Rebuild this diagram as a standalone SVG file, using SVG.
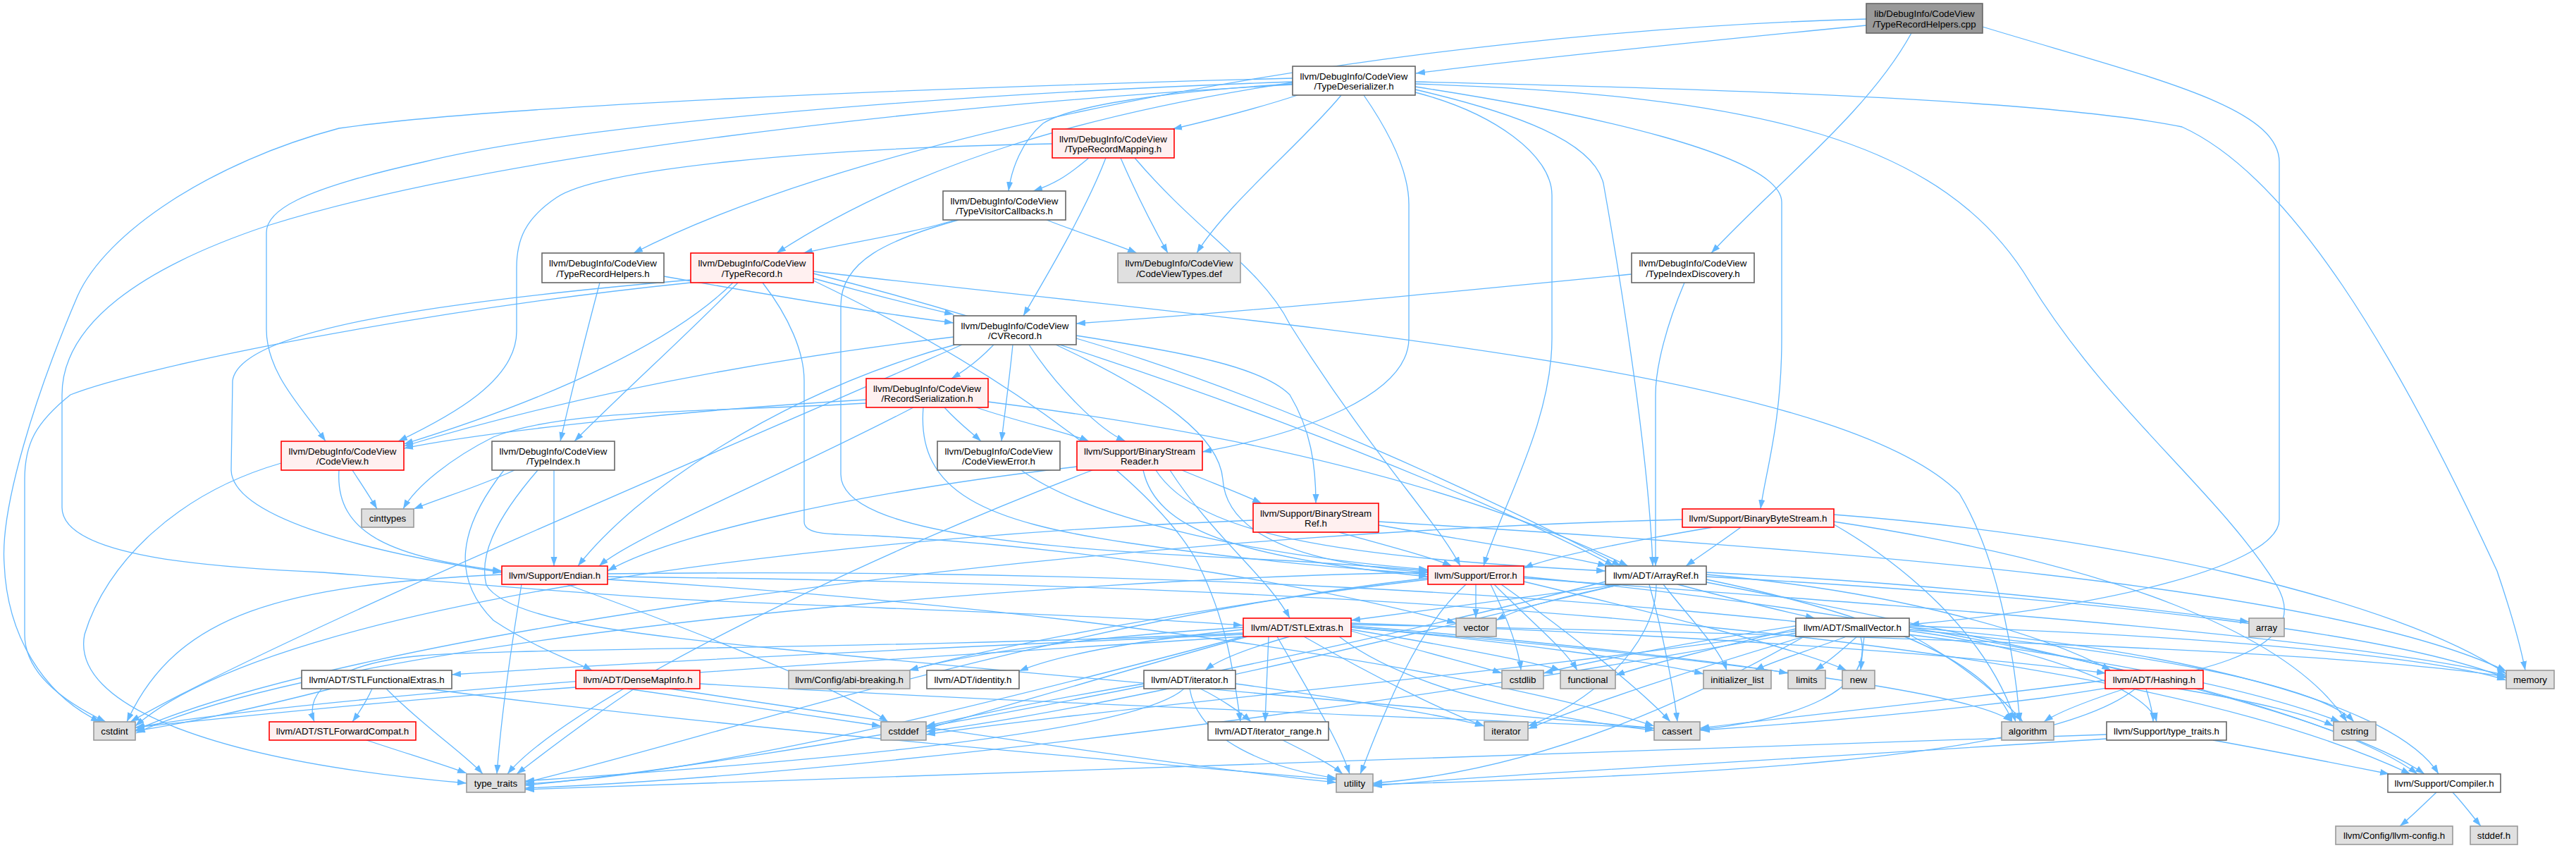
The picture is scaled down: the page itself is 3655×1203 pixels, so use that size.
<svg xmlns="http://www.w3.org/2000/svg" width="3655" height="1203" viewBox="0 0 3655 1203">
<defs>
<marker id="ah" viewBox="0 0 10 7" refX="10" refY="3.5" markerWidth="13" markerHeight="9.1" markerUnits="userSpaceOnUse" orient="auto">
<path d="M0,0 L10,3.5 L0,7 z" fill="#63b8ff"/>
</marker>
<style>
.e{fill:none;stroke:#63b8ff;stroke-width:1.3;marker-end:url(#ah)}
.nw rect{fill:#ffffff;stroke:#666666;stroke-width:1.6}
.nr rect{fill:#fff0f0;stroke:#ff0000;stroke-width:1.6}
.ng rect{fill:#e0e0e0;stroke:#999999;stroke-width:1.6}
.nroot rect{fill:#999999;stroke:#666666;stroke-width:1.6}
text{font-family:"Liberation Sans",Arial,Helvetica,sans-serif;font-size:13.3px;fill:#000000;text-anchor:middle}
</style>
</defs>
<rect x="0" y="0" width="3655" height="1203" fill="#ffffff"/>
<g id="edges">
<path class="e" d="M2648,36 C2400,60 2150,86 2009,104"/>
<path class="e" d="M2648,27 C2000,45 1250,180 899,359"/>
<path class="e" d="M2712,47 C2650,160 2520,260 2428,359"/>
<path class="e" d="M2813,38 C3050,110 3234,150 3234,230 L3234,737 C3234,800 3000,860 2710,886"/>
<path class="e" d="M1834,111 C1300,125 700,150 481,182 C300,230 150,330 110,420 C50,560 0,720 6,800 C10,900 60,985 142,1024"/>
<path class="e" d="M1834,116 C1300,135 800,180 600,230 C420,270 378,300 378,330 L378,467 C378,530 430,580 462,626"/>
<path class="e" d="M1834,120 C1300,150 700,220 380,320 C200,380 88,460 88,560 L88,720 C88,790 300,805 458,812 C700,830 850,845 1000,852 C1300,865 1600,875 1763,887"/>
<path class="e" d="M1841,135 C1780,155 1720,170 1664,183"/>
<path class="e" d="M1903,135 C1850,200 1740,290 1698,359"/>
<path class="e" d="M1935,135 C1980,200 1999,250 1999,290 L1999,480 C1999,560 1850,615 1706,641"/>
<path class="e" d="M2008,131 C2120,160 2202,220 2202,277 L2202,480 C2202,600 2130,720 2105,803"/>
<path class="e" d="M2008,127 C2150,160 2260,200 2275,260 C2300,400 2340,650 2345,803"/>
<path class="e" d="M2008,123 C2250,160 2528,220 2528,287 L2528,480 C2528,600 2505,670 2498,722"/>
<path class="e" d="M2008,119 C2500,135 2760,200 2880,400 C2990,580 3150,700 3230,830 C3290,930 3100,960 2900,990 C2700,1015 2500,1030 2413,1036"/>
<path class="e" d="M2008,116 C2400,125 2900,140 3096,180 C3250,250 3400,500 3543,810 C3560,860 3575,910 3583,951"/>
<path class="e" d="M1834,117 C1550,160 1300,230 1102,359"/>
<path class="e" d="M1834,119 C1650,130 1520,150 1480,175 C1450,200 1435,240 1431,271"/>
<path class="e" d="M942,392 C1100,420 1250,445 1353,458"/>
<path class="e" d="M851,401 C830,480 810,560 795,626"/>
<path class="e" d="M2315,389 C2100,410 1800,440 1527,459"/>
<path class="e" d="M2390,401 C2365,460 2349,520 2349,560 L2349,803"/>
<path class="e" d="M1545,224 C1520,245 1500,260 1466,271"/>
<path class="e" d="M1590,224 C1610,270 1635,320 1657,359"/>
<path class="e" d="M1569,224 C1540,300 1480,400 1452,448"/>
<path class="e" d="M1493,204 C1150,210 850,240 790,280 C745,310 733,340 733,380 L733,470 C733,540 640,590 565,626"/>
<path class="e" d="M1610,224 C1700,330 1790,380 1830,460 C1950,650 2040,740 2072,803"/>
<path class="e" d="M1355,312 C1300,330 1200,345 1140,359"/>
<path class="e" d="M1485,312 C1530,330 1580,345 1613,359"/>
<path class="e" d="M1360,312 C1260,340 1193,370 1193,433 L1193,673 C1193,760 1500,780 1820,795 C1900,800 1980,806 2026,810"/>
<path class="e" d="M1154,395 C1230,415 1290,432 1353,446"/>
<path class="e" d="M1040,401 C960,480 800,560 573,630"/>
<path class="e" d="M1047,401 C980,470 880,560 815,626"/>
<path class="e" d="M980,397 C600,430 340,470 330,540 L328,667 C330,730 500,780 712,812"/>
<path class="e" d="M980,401 C600,440 200,520 100,560 C50,600 35,630 35,680 L35,900 C35,960 100,1000 150,1024"/>
<path class="e" d="M1154,388 C1600,500 2100,700 2290,803"/>
<path class="e" d="M1082,401 C1120,450 1141,500 1141,540 L1141,740 C1141,760 1180,757 1240,760 C1600,780 1900,840 2066,884"/>
<path class="e" d="M1154,385 C1800,460 2600,520 2780,700 C2840,800 2860,950 2866,1024"/>
<path class="e" d="M1154,398 C1450,540 1650,700 1700,800 C1740,880 1750,950 1760,1024"/>
<path class="e" d="M1410,489 C1390,510 1370,525 1350,537"/>
<path class="e" d="M1437,489 C1432,540 1425,590 1421,626"/>
<path class="e" d="M1460,489 C1500,550 1560,610 1597,626"/>
<path class="e" d="M1498,489 C1650,560 1730,620 1735,680 C1740,760 1850,800 2026,812"/>
<path class="e" d="M1527,476 C1680,500 1790,520 1830,560 C1860,610 1867,660 1867,714"/>
<path class="e" d="M1527,480 C1800,560 2100,700 2300,803"/>
<path class="e" d="M1353,478 C1000,520 750,580 573,633"/>
<path class="e" d="M1355,489 C1100,560 900,700 820,803"/>
<path class="e" d="M1365,489 C1000,650 400,900 185,1024"/>
<path class="e" d="M1340,578 C1360,600 1380,615 1392,626"/>
<path class="e" d="M1385,578 C1450,600 1520,615 1545,626"/>
<path class="e" d="M1402,570 C1800,620 2100,700 2310,803"/>
<path class="e" d="M1229,567 C1000,580 700,610 573,636"/>
<path class="e" d="M1229,572 C1000,585 800,580 700,620 C640,650 590,690 572,722"/>
<path class="e" d="M1296,578 C1100,680 900,760 850,803"/>
<path class="e" d="M1310,578 C1300,700 1400,740 1600,770 C1800,800 1950,808 2026,815"/>
<path class="e" d="M1677,667 C1720,685 1760,700 1790,714"/>
<path class="e" d="M1528,662 C1200,700 950,760 862,810"/>
<path class="e" d="M1550,667 C1200,800 800,1000 720,1098"/>
<path class="e" d="M1622,667 C1640,750 1750,790 2026,818"/>
<path class="e" d="M1640,667 C1700,760 1900,790 2278,810"/>
<path class="e" d="M1660,667 C1720,760 1800,820 1830,877"/>
<path class="e" d="M1956,745 C2100,770 2230,790 2280,803"/>
<path class="e" d="M1900,755 C1970,775 2030,790 2060,803"/>
<path class="e" d="M1778,738 C1200,760 400,850 192,1030"/>
<path class="e" d="M1956,740 C2600,780 3300,830 3556,952"/>
<path class="e" d="M2470,748 C2440,770 2410,790 2392,803"/>
<path class="e" d="M2430,748 C2300,770 2200,790 2162,806"/>
<path class="e" d="M2387,737 C1500,760 500,900 192,1036"/>
<path class="e" d="M2602,730 C3000,760 3400,850 3556,956"/>
<path class="e" d="M2602,740 C3000,800 3250,900 3330,1024"/>
<path class="e" d="M2602,744 C2700,800 2820,900 2860,1024"/>
<path class="e" d="M500,667 C515,690 525,705 535,722"/>
<path class="e" d="M481,667 C475,760 560,790 712,810"/>
<path class="e" d="M399,657 C250,700 150,800 120,900 C100,1000 300,1080 662,1111"/>
<path class="e" d="M730,667 C680,690 630,705 587,722"/>
<path class="e" d="M786,667 L786,803"/>
<path class="e" d="M715,667 C650,750 640,820 700,880 C760,920 820,940 840,951"/>
<path class="e" d="M763,667 C700,740 680,790 690,830 C720,880 900,900 1100,920 C1600,970 2100,1010 2347,1033"/>
<path class="e" d="M712,815 C400,830 250,870 180,1024"/>
<path class="e" d="M740,829 C720,950 710,1030 705,1098"/>
<path class="e" d="M804,829 C1000,900 1200,980 1260,1024"/>
<path class="e" d="M862,818 C2000,830 3000,900 3420,1098"/>
<path class="e" d="M862,822 C1500,860 2100,950 2347,1030"/>
<path class="e" d="M862,814 C2000,800 3000,900 3320,1024"/>
<path class="e" d="M2094,829 L2094,877"/>
<path class="e" d="M2115,829 C2140,880 2155,920 2158,951"/>
<path class="e" d="M2120,829 C2170,880 2220,920 2238,951"/>
<path class="e" d="M2130,829 C2230,900 2330,980 2370,1024"/>
<path class="e" d="M2162,825 C2350,870 2550,920 2620,951"/>
<path class="e" d="M2162,820 C2700,860 3300,900 3556,958"/>
<path class="e" d="M2162,818 C2800,880 3300,1000 3430,1098"/>
<path class="e" d="M2026,812 C1500,820 500,900 193,1040"/>
<path class="e" d="M2026,820 C1500,880 1000,1050 745,1110"/>
<path class="e" d="M2080,829 C2000,900 1950,1050 1930,1098"/>
<path class="e" d="M2026,822 C1700,860 1400,920 1290,951"/>
<path class="e" d="M2300,829 C2150,850 2000,870 1917,880"/>
<path class="e" d="M2300,829 C2200,850 2150,865 2123,880"/>
<path class="e" d="M2380,829 C2460,850 2520,865 2575,877"/>
<path class="e" d="M2421,815 C2700,840 2900,900 2995,951"/>
<path class="e" d="M2360,829 C2400,880 2440,920 2450,951"/>
<path class="e" d="M2350,829 C2350,920 2250,1000 2168,1030"/>
<path class="e" d="M2340,829 C2360,900 2375,980 2380,1024"/>
<path class="e" d="M2300,829 C2000,900 1600,1000 1314,1038"/>
<path class="e" d="M2421,822 C2700,880 2830,950 2855,1024"/>
<path class="e" d="M2421,812 C2800,830 3100,870 3191,882"/>
<path class="e" d="M2421,818 C3000,850 3400,900 3556,962"/>
<path class="e" d="M2278,825 C1800,950 1100,1080 745,1114"/>
<path class="e" d="M2421,826 C2800,900 3300,1000 3440,1098"/>
<path class="e" d="M2709,890 C3100,920 3400,1000 3460,1098"/>
<path class="e" d="M2709,895 C2900,920 3050,980 3060,1024"/>
<path class="e" d="M2709,900 C2800,950 2850,1000 2870,1024"/>
<path class="e" d="M2640,903 C2660,980 2550,1020 2412,1035"/>
<path class="e" d="M2548,895 C2200,950 1600,1000 1314,1042"/>
<path class="e" d="M2548,888 C2400,910 2250,940 2190,955"/>
<path class="e" d="M2709,893 C3100,930 3300,980 3340,1024"/>
<path class="e" d="M2548,892 C2450,915 2330,945 2292,958"/>
<path class="e" d="M2620,903 C2560,925 2510,940 2490,951"/>
<path class="e" d="M2560,903 C2400,950 2250,1000 2168,1034"/>
<path class="e" d="M2635,903 C2615,920 2600,935 2575,951"/>
<path class="e" d="M2645,903 L2640,951"/>
<path class="e" d="M2709,888 C3100,900 3450,930 3556,965"/>
<path class="e" d="M2548,898 C2000,1000 1200,1100 745,1118"/>
<path class="e" d="M2560,903 C2300,1050 2100,1100 1948,1111"/>
<path class="e" d="M1917,884 C2400,900 2800,930 2988,955"/>
<path class="e" d="M1764,898 C1300,920 700,920 600,930 C480,940 430,980 446,1024"/>
<path class="e" d="M1764,900 C1300,920 900,940 641,957"/>
<path class="e" d="M1830,903 C1770,920 1730,935 1710,951"/>
<path class="e" d="M1800,903 L1795,1024"/>
<path class="e" d="M1764,890 C1600,900 1400,920 1290,951"/>
<path class="e" d="M1764,893 C1600,910 1500,930 1446,952"/>
<path class="e" d="M1917,890 C2400,930 2800,980 2855,1024"/>
<path class="e" d="M1900,903 C2000,980 2200,1020 2347,1036"/>
<path class="e" d="M1770,903 C1600,950 1400,1010 1314,1034"/>
<path class="e" d="M1764,903 C1200,940 500,980 192,1032"/>
<path class="e" d="M1917,895 C2000,920 2100,945 2131,955"/>
<path class="e" d="M1917,893 C2050,915 2180,940 2214,951"/>
<path class="e" d="M1917,890 C2150,910 2350,940 2417,956"/>
<path class="e" d="M1850,903 C1950,960 2050,1010 2106,1030"/>
<path class="e" d="M1917,888 C2200,910 2450,940 2537,955"/>
<path class="e" d="M1917,886 C2600,900 3300,920 3556,960"/>
<path class="e" d="M1764,903 C1400,1000 1000,1100 745,1112"/>
<path class="e" d="M1812,903 C1850,970 1900,1050 1915,1098"/>
<path class="e" d="M528,977 C520,995 510,1010 500,1024"/>
<path class="e" d="M470,977 C380,1000 270,1025 192,1037"/>
<path class="e" d="M548,977 C600,1030 660,1070 685,1098"/>
<path class="e" d="M606,977 C1000,1030 1600,1080 1896,1106"/>
<path class="e" d="M993,970 C1500,1000 2100,1020 2347,1033"/>
<path class="e" d="M890,977 C1050,1000 1180,1020 1250,1030"/>
<path class="e" d="M817,975 C600,990 350,1015 192,1032"/>
<path class="e" d="M900,977 C820,1030 770,1070 733,1098"/>
<path class="e" d="M950,977 C1300,1030 1700,1090 1896,1110"/>
<path class="e" d="M1703,977 C1730,990 1760,1010 1775,1024"/>
<path class="e" d="M1623,970 C1500,990 1380,1015 1314,1030"/>
<path class="e" d="M1753,970 C1900,990 2050,1015 2106,1030"/>
<path class="e" d="M1680,977 C1600,1050 1000,1090 745,1108"/>
<path class="e" d="M1688,977 C1700,1050 1800,1090 1896,1104"/>
<path class="e" d="M1820,1050 C1860,1070 1890,1085 1905,1098"/>
<path class="e" d="M3015,977 C2960,995 2920,1010 2900,1024"/>
<path class="e" d="M3045,977 C3050,995 3055,1010 3055,1024"/>
<path class="e" d="M3090,977 C3200,995 3280,1015 3311,1030"/>
<path class="e" d="M3030,977 C2900,1080 2400,1100 1948,1113"/>
<path class="e" d="M2987,965 C2800,990 2600,1010 2412,1033"/>
<path class="e" d="M3140,1050 C3250,1070 3350,1090 3390,1098"/>
<path class="e" d="M2989,1042 C2000,1080 1200,1110 745,1120"/>
<path class="e" d="M2989,1048 C2500,1080 2100,1100 1948,1115"/>
<path class="e" d="M3457,1124 C3440,1140 3420,1160 3405,1172"/>
<path class="e" d="M3480,1124 C3495,1140 3510,1160 3520,1172"/>
<path class="e" d="M520,1050 C580,1070 630,1085 662,1097"/>
<path class="e" d="M1449,667 C1550,740 1800,790 2026,808"/>
</g>
<g id="nodes">
<g id="n_root" class="nroot"><rect x="2648" y="5" width="165" height="42"/><text x="2730.5" y="24">lib/DebugInfo/CodeView</text><text x="2730.5" y="38.5">/TypeRecordHelpers.cpp</text></g>
<g id="n_trh" class="nw"><rect x="769" y="359" width="173" height="42"/><text x="855.5" y="378">llvm/DebugInfo/CodeView</text><text x="855.5" y="392.5">/TypeRecordHelpers.h</text></g>
<g id="n_td" class="nw"><rect x="1834" y="94" width="174" height="41"/><text x="1921" y="112.5">llvm/DebugInfo/CodeView</text><text x="1921" y="127">/TypeDeserializer.h</text></g>
<g id="n_tid" class="nw"><rect x="2315" y="359" width="174" height="42"/><text x="2402" y="378">llvm/DebugInfo/CodeView</text><text x="2402" y="392.5">/TypeIndexDiscovery.h</text></g>
<g id="n_trm" class="nr"><rect x="1493" y="183" width="173" height="41"/><text x="1579.5" y="201.5">llvm/DebugInfo/CodeView</text><text x="1579.5" y="216">/TypeRecordMapping.h</text></g>
<g id="n_tvc" class="nw"><rect x="1338" y="271" width="174" height="41"/><text x="1425" y="289.5">llvm/DebugInfo/CodeView</text><text x="1425" y="304">/TypeVisitorCallbacks.h</text></g>
<g id="n_tr" class="nr"><rect x="980" y="359" width="174" height="42"/><text x="1067" y="378">llvm/DebugInfo/CodeView</text><text x="1067" y="392.5">/TypeRecord.h</text></g>
<g id="n_cvt" class="ng"><rect x="1586" y="359" width="174" height="42"/><text x="1673" y="378">llvm/DebugInfo/CodeView</text><text x="1673" y="392.5">/CodeViewTypes.def</text></g>
<g id="n_cvr" class="nw"><rect x="1353" y="448" width="174" height="41"/><text x="1440" y="466.5">llvm/DebugInfo/CodeView</text><text x="1440" y="481">/CVRecord.h</text></g>
<g id="n_rs" class="nr"><rect x="1229" y="537" width="173" height="41"/><text x="1315.5" y="555.5">llvm/DebugInfo/CodeView</text><text x="1315.5" y="570">/RecordSerialization.h</text></g>
<g id="n_cv" class="nr"><rect x="399" y="626" width="174" height="41"/><text x="486" y="644.5">llvm/DebugInfo/CodeView</text><text x="486" y="659">/CodeView.h</text></g>
<g id="n_ti" class="nw"><rect x="698" y="626" width="174" height="41"/><text x="785" y="644.5">llvm/DebugInfo/CodeView</text><text x="785" y="659">/TypeIndex.h</text></g>
<g id="n_cve" class="nw"><rect x="1330" y="626" width="174" height="41"/><text x="1417" y="644.5">llvm/DebugInfo/CodeView</text><text x="1417" y="659">/CodeViewError.h</text></g>
<g id="n_bsr" class="nr"><rect x="1528" y="626" width="178" height="41"/><text x="1617" y="644.5">llvm/Support/BinaryStream</text><text x="1617" y="659">Reader.h</text></g>
<g id="n_bsref" class="nr"><rect x="1778" y="714" width="178" height="41"/><text x="1867" y="732.5">llvm/Support/BinaryStream</text><text x="1867" y="747">Ref.h</text></g>
<g id="n_bbs" class="nr"><rect x="2387" y="722" width="215" height="26"/><text x="2494.5" y="739.5">llvm/Support/BinaryByteStream.h</text></g>
<g id="n_cinttypes" class="ng"><rect x="513" y="722" width="74" height="26"/><text x="550" y="739.5">cinttypes</text></g>
<g id="n_endian" class="nr"><rect x="712" y="803" width="150" height="26"/><text x="787" y="820.5">llvm/Support/Endian.h</text></g>
<g id="n_error" class="nr"><rect x="2026" y="803" width="136" height="26"/><text x="2094" y="820.5">llvm/Support/Error.h</text></g>
<g id="n_arrayref" class="nw"><rect x="2278" y="803" width="143" height="26"/><text x="2349.5" y="820.5">llvm/ADT/ArrayRef.h</text></g>
<g id="n_stlextras" class="nr"><rect x="1764" y="877" width="153" height="26"/><text x="1840.5" y="894.5">llvm/ADT/STLExtras.h</text></g>
<g id="n_vector" class="ng"><rect x="2066" y="877" width="57" height="26"/><text x="2094.5" y="894.5">vector</text></g>
<g id="n_smallvector" class="nw"><rect x="2548" y="877" width="161" height="26"/><text x="2628.5" y="894.5">llvm/ADT/SmallVector.h</text></g>
<g id="n_array" class="ng"><rect x="3191" y="877" width="50" height="26"/><text x="3216" y="894.5">array</text></g>
<g id="n_stlfunc" class="nw"><rect x="428" y="951" width="213" height="26"/><text x="534.5" y="968.5">llvm/ADT/STLFunctionalExtras.h</text></g>
<g id="n_densemap" class="nr"><rect x="817" y="951" width="176" height="26"/><text x="905" y="968.5">llvm/ADT/DenseMapInfo.h</text></g>
<g id="n_abi" class="ng"><rect x="1119" y="951" width="172" height="26"/><text x="1205" y="968.5">llvm/Config/abi-breaking.h</text></g>
<g id="n_identity" class="nw"><rect x="1315" y="951" width="131" height="26"/><text x="1380.5" y="968.5">llvm/ADT/identity.h</text></g>
<g id="n_iteratorh" class="nw"><rect x="1623" y="951" width="130" height="26"/><text x="1688" y="968.5">llvm/ADT/iterator.h</text></g>
<g id="n_cstdlib" class="ng"><rect x="2131" y="951" width="59" height="26"/><text x="2160.5" y="968.5">cstdlib</text></g>
<g id="n_functional" class="ng"><rect x="2214" y="951" width="78" height="26"/><text x="2253" y="968.5">functional</text></g>
<g id="n_initlist" class="ng"><rect x="2417" y="951" width="96" height="26"/><text x="2465" y="968.5">initializer_list</text></g>
<g id="n_limits" class="ng"><rect x="2537" y="951" width="53" height="26"/><text x="2563.5" y="968.5">limits</text></g>
<g id="n_new" class="ng"><rect x="2614" y="951" width="46" height="26"/><text x="2637" y="968.5">new</text></g>
<g id="n_hashing" class="nr"><rect x="2987" y="951" width="139" height="26"/><text x="3056.5" y="968.5">llvm/ADT/Hashing.h</text></g>
<g id="n_memory" class="ng"><rect x="3556" y="951" width="68" height="26"/><text x="3590" y="968.5">memory</text></g>
<g id="n_cstdint" class="ng"><rect x="133" y="1024" width="59" height="26"/><text x="162.5" y="1041.5">cstdint</text></g>
<g id="n_stlfwd" class="nr"><rect x="382" y="1024" width="208" height="26"/><text x="486" y="1041.5">llvm/ADT/STLForwardCompat.h</text></g>
<g id="n_cstddef" class="ng"><rect x="1250" y="1024" width="64" height="26"/><text x="1282" y="1041.5">cstddef</text></g>
<g id="n_iterrange" class="nw"><rect x="1714" y="1024" width="171" height="26"/><text x="1799.5" y="1041.5">llvm/ADT/iterator_range.h</text></g>
<g id="n_iterator" class="ng"><rect x="2106" y="1024" width="62" height="26"/><text x="2137" y="1041.5">iterator</text></g>
<g id="n_cassert" class="ng"><rect x="2347" y="1024" width="65" height="26"/><text x="2379.5" y="1041.5">cassert</text></g>
<g id="n_algorithm" class="ng"><rect x="2840" y="1024" width="74" height="26"/><text x="2877" y="1041.5">algorithm</text></g>
<g id="n_sttraits" class="nw"><rect x="2989" y="1024" width="170" height="26"/><text x="3074" y="1041.5">llvm/Support/type_traits.h</text></g>
<g id="n_cstring" class="ng"><rect x="3311" y="1024" width="60" height="26"/><text x="3341" y="1041.5">cstring</text></g>
<g id="n_type_traits" class="ng"><rect x="662" y="1098" width="83" height="26"/><text x="703.5" y="1115.5">type_traits</text></g>
<g id="n_utility" class="ng"><rect x="1896" y="1098" width="52" height="26"/><text x="1922" y="1115.5">utility</text></g>
<g id="n_compiler" class="nw"><rect x="3388" y="1098" width="160" height="26"/><text x="3468" y="1115.5">llvm/Support/Compiler.h</text></g>
<g id="n_llvmconfig" class="ng"><rect x="3314" y="1172" width="166" height="26"/><text x="3397" y="1189.5">llvm/Config/llvm-config.h</text></g>
<g id="n_stddef" class="ng"><rect x="3505" y="1172" width="67" height="26"/><text x="3538.5" y="1189.5">stddef.h</text></g>
</g>
</svg>
